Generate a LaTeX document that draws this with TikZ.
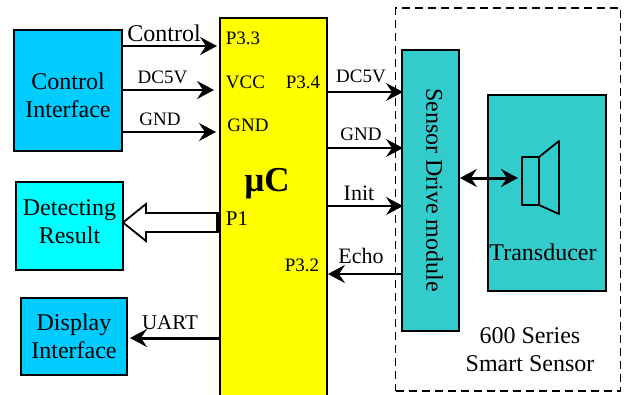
\documentclass[tikz,border=0pt]{standalone}
\usepackage{fontspec}
\setmainfont{Liberation Serif}
\usetikzlibrary{arrows.meta}
\definecolor{birulangit}{HTML}{00CCFF}
\definecolor{birumuda}{HTML}{00FFFF}
\definecolor{toska}{HTML}{33CCCC}
\definecolor{kuning}{HTML}{FFFF00}
\tikzset{ujung/.tip={Stealth[length=17pt,width=18pt,inset=6pt]}}
\begin{document}
\begin{tikzpicture}[x=1pt,y=-1pt,
      kotak/.style={draw,line width=1.8pt,inner sep=0pt},
      kabel/.style={line width=1.8pt,-ujung},
      kabelbesar/.style={line width=3pt,-ujung},
      pin/.style={font=\fontsize{19}{22}\selectfont,inner sep=0pt},
      tulisan/.style={font=\fontsize{24}{28}\selectfont,inner sep=0pt,align=center}]
    \useasboundingbox (0,0) rectangle (624,394);
    \clip (0,0) rectangle (624,394);
    % Kotak di sebelah kiri
    \node[kotak,fill=birulangit,minimum width=108pt,minimum height=121pt] (ctl) at (68,90.5) {};
    \node[tulisan] (ctllbl) at (68,95) {Control\\Interface};
    \node[kotak,fill=birumuda,minimum width=107pt,minimum height=88pt] (det) at (69.5,226) {};
    \node[tulisan] (detlbl) at (69.5,221.5) {Detecting\\Result};
    \node[kotak,fill=birulangit,minimum width=106pt,minimum height=77pt] (disp) at (74,336.5) {};
    \node[tulisan] (displbl) at (74,336.5) {Display\\Interface};
    % Mikrokontroler, terpotong di tepi bawah
    \node[kotak,fill=kuning,minimum width=107pt,minimum height=400pt] (uc) at (273.5,218) {};
    \node[font=\fontsize{35}{40}\selectfont\bfseries,inner sep=0pt] (uclbl) at (267,184) {µC};
    % Modul sensor
    \node[draw,dash pattern=on 8pt off 5pt,line width=1.7pt,minimum width=225pt,minimum height=383pt,inner sep=0pt] (smart) at (508,199.5) {};
    \node[kotak,fill=toska,minimum width=57pt,minimum height=281pt] (drive) at (430.5,190.5) {};
    \node[font=\fontsize{24}{28}\selectfont,inner sep=0pt,rotate=-90] (drvlbl) at (434.5,190) {Sensor Drive module};
    \node[kotak,fill=toska,minimum width=118pt,minimum height=196pt] (trans) at (547,193) {};
    \node[tulisan] (trlbl) at (543,252) {Transducer};
    \node[tulisan] (serlbl) at (530,349.5) {600 Series\\Smart Sensor};
    % Titik ujung kabel
    \coordinate (pctl) at (217,46);
    \coordinate (pvcc) at (214,90);
    \coordinate (pgnd) at (216,132);
    \coordinate (quart) at (130,338);
    \coordinate (dc) at (403,92);
    \coordinate (gn) at (403,148);
    \coordinate (ini) at (403,206);
    \coordinate (ech) at (402,274);
    \coordinate (spk) at (518,178);
    % Kabel
    \draw[kabel] (ctl.east |- pctl) -- (pctl);
    \draw[kabel] (ctl.east |- pvcc) -- (pvcc);
    \draw[kabel] (ctl.east |- pgnd) -- (pgnd);
    \draw[kabel] (uc.east |- dc) -- (dc);
    \draw[kabel] (uc.east |- gn) -- (gn);
    \draw[kabel] (uc.east |- ini) -- (ini);
    \draw[kabel] (ech) -- (uc.east |- ech);
    \draw[kabelbesar] (uc.west |- quart) -- (quart);
    \draw[line width=3pt,ujung-ujung] (drive.east |- spk) -- (spk);
    % Panah putih ke hasil deteksi
    \draw[line width=1.8pt,fill=white,line join=miter] (219,213) -- (146,213) -- (146,204) -- (123,222.5) -- (146,241) -- (146,232) -- (219,232);
    \draw[line width=3.5pt] (218,213) -- (218,232);
    % Pengeras suara
    \draw[line width=1.8pt,line join=round] (522,157) rectangle (539,205);
    \draw[line width=1.8pt,line join=round] (539,157) -- (559,141) -- (559,214) -- (539,205);
    % Label pin
    \node[pin] (p33) at (243,38) {P3.3};
    \node[pin] (pv) at (245.5,82) {VCC};
    \node[pin] (pg) at (248,125) {GND};
    \node[pin] (p34) at (303,82) {P3.4};
    \node[pin] (p32) at (302,265) {P3.2};
    \node[font=\fontsize{21}{24}\selectfont,inner sep=0pt] (p1) at (237,219) {P1};
    % Label kabel
    \node[tulisan] (lctl) at (164,33) {Control};
    \node[pin] (l1) at (162.5,77) {DC5V};
    \node[pin] (l2) at (160,119) {GND};
    \node[pin] (l3) at (361,76) {DC5V};
    \node[pin] (l4) at (361,134) {GND};
    \node[font=\fontsize{22}{26}\selectfont,inner sep=0pt] (l5) at (359,193) {Init};
    \node[font=\fontsize{22}{26}\selectfont,inner sep=0pt] (l6) at (361,256) {Echo};
    \node[font=\fontsize{21}{24}\selectfont,inner sep=0pt] (l7) at (170,323) {UART};
  \end{tikzpicture}
\end{document}
